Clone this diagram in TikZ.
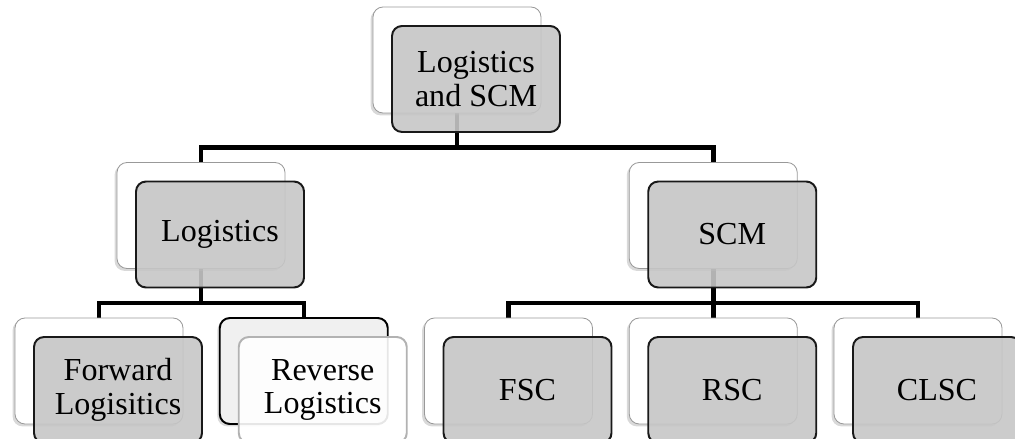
\documentclass[tikz,border=0pt]{standalone}
\usepackage{fontspec}
\setmainfont{Liberation Serif}
\usetikzlibrary{positioning,shadows,backgrounds}

\begin{document}
\begin{tikzpicture}[font=\fontsize{22.8}{23.8}\selectfont, node distance=0.91875cm]
  \tikzset{
    backbox/.style={draw=gray!80, line width=0.6pt, rounded corners=0.25cm, fill=white, minimum width=4.2cm, minimum height=2.65cm, outer sep=0pt, drop shadow={shadow xshift=-0.06cm, shadow yshift=-0.06cm, opacity=0.3}},
    frontbox/.style={draw=black!90, line width=1.4pt, rounded corners=0.25cm, fill=gray!45, fill opacity=0.9, text opacity=1, minimum width=4.2cm, minimum height=2.65cm, align=center, outer sep=0pt},
    link/.style={draw=black, line width=3.2pt}
  }
  \useasboundingbox (0,0) rectangle (25.375,-10.975);

  % back cards
  \node[backbox] (fwdbg) at (2.475,-9.275) {};
  \node[backbox, right=of fwdbg, fill=gray!12, draw=black, line width=1.4pt] (revbg) {};
  \node[backbox, right=of revbg] (fscbg) {};
  \node[backbox, right=of fscbg] (rscbg) {};
  \node[backbox, right=of rscbg] (clscbg) {};
  \node[backbox] (logbg) at (5.025,-5.3875) {};
  \node[backbox] (scmbg) at (rscbg |- logbg) {};
  \node[backbox] (rootbg) at (11.425,-1.5) {};

  % front cards
  \node[frontbox] (root) at ([shift={(0.475,-0.475)}]rootbg.center) {Logistics\\and SCM};
  \node[frontbox] (log) at ([shift={(0.475,-0.475)}]logbg.center) {Logistics};
  \node[frontbox] (scm) at ([shift={(0.475,-0.475)}]scmbg.center) {SCM};
  \node[frontbox] (fwd) at ([shift={(0.475,-0.475)}]fwdbg.center) {Forward\\Logisitics};
  \node[frontbox, fill=white, draw=gray!60] (rev) at ([shift={(0.475,-0.475)}]revbg.center) {Reverse\\Logistics};
  \node[frontbox] (fsc) at ([shift={(0.475,-0.475)}]fscbg.center) {FSC};
  \node[frontbox] (rsc) at ([shift={(0.475,-0.475)}]rscbg.center) {RSC};
  \node[frontbox] (clsc) at ([shift={(0.475,-0.475)}]clscbg.center) {CLSC};

  \begin{scope}[on background layer]
    \draw[link] (rootbg.south) -- ++(0,-0.86) -| (logbg.north);
    \draw[link] (rootbg.south) -- ++(0,-0.86) -| (scmbg.north);
    \foreach \kid in {fwdbg,revbg}
      \draw[link] (logbg.south) -- ++(0,-0.86) -| (\kid.north);
    \foreach \kid in {fscbg,rscbg,clscbg}
      \draw[link] (scmbg.south) -- ++(0,-0.86) -| (\kid.north);
  \end{scope}
\end{tikzpicture}
\end{document}
